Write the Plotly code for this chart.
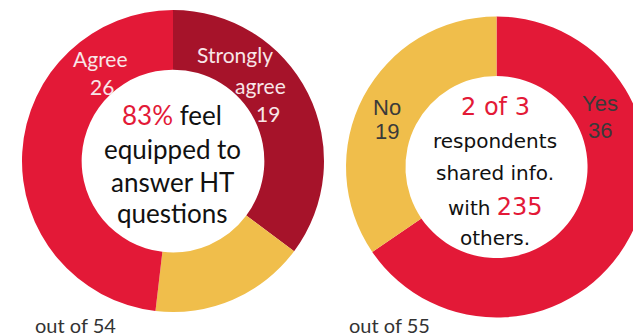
import plotly.graph_objects as go

# ---- data ----
left_labels = ["Strongly agree", "Other", "Agree"]
left_values = [19, 9, 26]
right_labels = ["Yes", "No"]
right_values = [36, 19]
shared_with = 235

left_colors = ["#A6132A", "#F0BE4B", "#E31937"]
right_colors = ["#E31937", "#F0BE4B"]

W, H = 650, 336
RED = "#E31937"


def px_x(x):
    return x / W


def px_y(y):
    return 1 - y / H


def dom(cx, cy, r):
    return dict(x=[px_x(cx - r), px_x(cx + r)], y=[px_y(cy + r), px_y(cy - r)])


fig = go.Figure()
fig.add_trace(go.Pie(
    labels=left_labels, values=left_values, hole=0.605, sort=False,
    direction="clockwise", rotation=0, textinfo="none",
    marker=dict(colors=left_colors, line=dict(width=0)),
    domain=dom(173, 161, 151), showlegend=False))
fig.add_trace(go.Pie(
    labels=right_labels, values=right_values, hole=0.605, sort=False,
    direction="clockwise", rotation=0, textinfo="none",
    marker=dict(colors=right_colors, line=dict(width=0)),
    domain=dom(496.5, 167, 150.5), showlegend=False))

ann = []


def add(text, x, y, size, color, family):
    ann.append(dict(text=text, x=px_x(x), y=px_y(y), xref="paper", yref="paper",
                    xanchor="center", yanchor="middle", showarrow=False,
                    font=dict(size=size, color=color, family=family)))


LATO = "Lato"
DV = "DejaVu Sans"
LS = "Liberation Sans"
LBL = "#F8E6E8"
INK = "#111111"

# left slice labels
sa, other, ag = left_values
add("Agree", 100, 58, 21, LBL, LATO)
add(str(ag), 102, 87, 21, LBL, LATO)
add("Strongly", 235, 55, 21, LBL, LATO)
add("agree", 260, 85, 21, LBL, LATO)
add(str(sa), 268, 113, 21, LBL, LATO)

# left centre text
pct = round((sa + ag) / sum(left_values) * 100)
add(f"<span style='color:{RED}'>{pct}%</span> feel", 172, 115, 26, INK, LATO)
add("equipped to", 172, 149, 26, INK, LATO)
add("answer HT", 172, 182, 26, INK, LATO)
add("questions", 172, 213, 26, INK, LATO)
add(f"out of {sum(left_values)}", 75, 325, 20, "#333333", LATO)

# right slice labels
yes, no = right_values
add("No", 387, 107, 22, "#3A3A3A", LS)
add(str(no), 387, 132, 22, "#3A3A3A", LS)
add("Yes", 600, 103, 22, "#3A3A3A", LS)
add(str(yes), 600, 130, 22, "#3A3A3A", LS)

# right centre text
add("2 of 3", 495, 107, 24, RED, DV)
add("respondents", 495, 141, 20, INK, DV)
add("shared info.", 495, 173, 20, INK, DV)
add(f"with <span style='color:{RED};font-size:24px'>{shared_with}</span>", 495, 207, 20, INK, DV)
add("others.", 495, 238, 20, INK, DV)
add(f"out of {sum(right_values)}", 389, 325, 20, "#333333", LATO)

fig.update_layout(width=W, height=H, margin=dict(l=0, r=0, t=0, b=0),
                  paper_bgcolor="white", plot_bgcolor="white",
                  annotations=ann, showlegend=False)

fig.write_html("out.html", post_script="document.body.style.overflow='hidden';document.body.style.margin='0';")
